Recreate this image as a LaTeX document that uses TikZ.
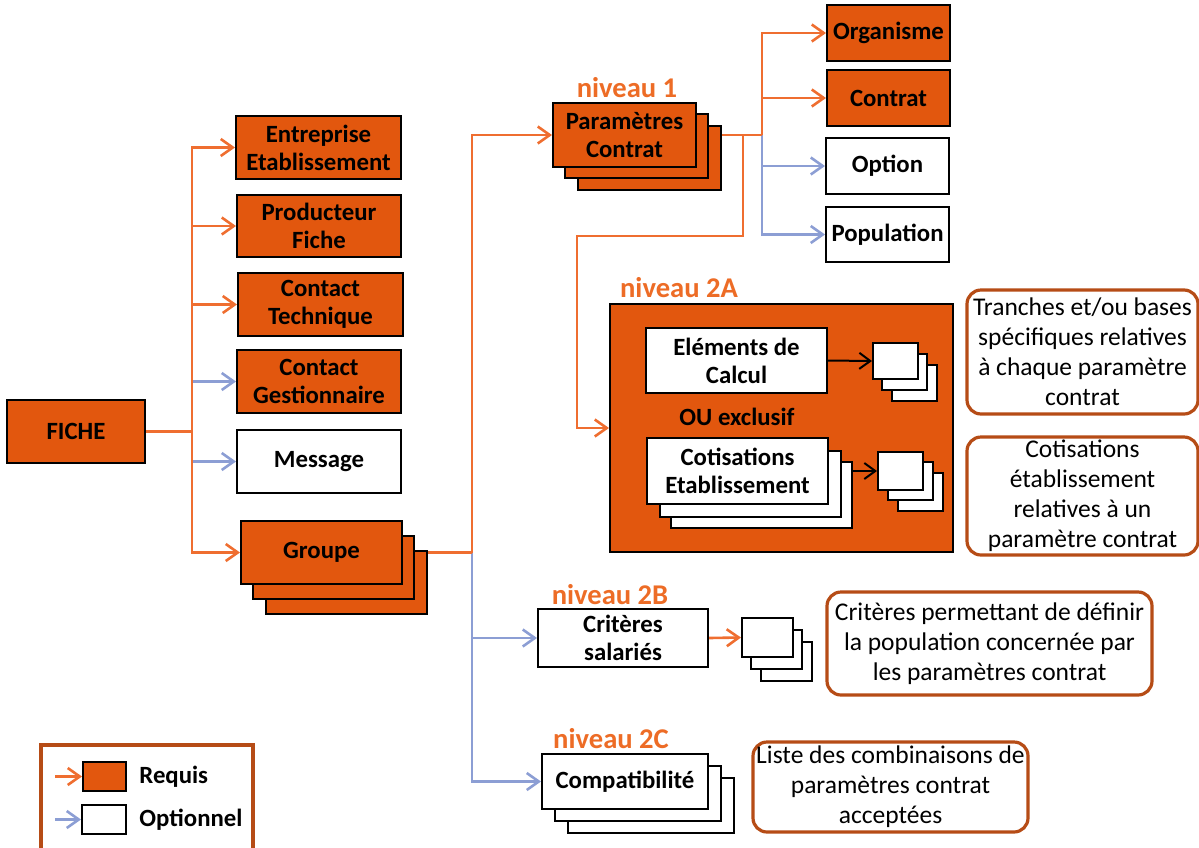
\documentclass[tikz,border=0pt]{standalone}
\usepackage{fontspec}
\setmainfont{Carlito}
\usetikzlibrary{arrows.meta,calc}
\pgfdeclarelayer{bga}
\pgfdeclarelayer{bgb}
\pgfsetlayers{bga,bgb,main}
\definecolor{fillO}{RGB}{226,87,14}
\definecolor{arrO}{RGB}{239,110,48}
\definecolor{arrB}{RGB}{140,158,212}
\definecolor{annB}{RGB}{182,76,22}
\definecolor{nivO}{RGB}{237,108,38}
\begin{document}
\begin{tikzpicture}[x=0.5pt,y=-0.5pt,
  sz/.style 2 args={minimum width=#1*0.5pt, minimum height=#2*0.5pt},
  lbl/.style={inner sep=0pt, align=center, text=black,
    font=\fontsize{12.4}{14}\selectfont\bfseries},
  box/.style={lbl, draw=black, line width=1pt},
  req/.style={box, fill=fillO},
  opt/.style={box, fill=white},
  annot/.style={draw=annB, line width=1.6pt, rounded corners=7pt, fill=white, inner sep=0pt,
    align=center, font=\fontsize{12.75}{15}\selectfont},
  niv/.style={text=nivO, inner sep=0pt, font=\fontsize{14.3}{16}\selectfont\bfseries},
  oline/.style={draw=arrO, line width=1.3pt},
  bline/.style={draw=arrB, line width=1.3pt},
  oarr/.style={oline, -{Straight Barb[length=6pt,width=8.5pt]}},
  barr/.style={bline, -{Straight Barb[length=6pt,width=8.5pt]}},
  karr/.style={draw=black, line width=1pt, -{Straight Barb[length=5.5pt,width=8pt]}}
]
\useasboundingbox (0,0) rectangle (1199,847);

% ---------- left column ----------
\node[req, sz={138}{63}] (fiche) at (76,431.5) {FICHE};
\node[req, sz={165}{63}] (ent) at (318.5,147.5) {Entreprise\\Etablissement};
\node[req, sz={164}{62}] (prod) at (319,226) {Producteur\\Fiche};
\node[req, sz={165}{63}] (ctech) at (320.5,304.5) {Contact\\Technique};
\node[req, sz={164}{63}] (cgest) at (319,381.5) {Contact\\Gestionnaire};
\node[opt, sz={164}{63}] (msg) at (319,461.5) {Message};
\node[req, sz={161}{63}] (groupe3) at (346.5,582.5) {};
\node[req, sz={161}{63}] (groupe2) at (333.5,567.5) {};
\node[req, sz={161}{63}] (groupe) at (321.5,552.5) {Groupe};

% ---------- niveau 1 ----------
\node[niv] (niv1) at (627,88) {niveau 1};
\node[req, sz={143}{64}] (param3) at (649.5,158) {};
\node[req, sz={143}{64}] (param2) at (636.5,146) {};
\node[req, sz={143}{64}] (param) at (624.5,135) {Paramètres\\Contrat};
\node[req, sz={123}{56}] (org) at (888.5,33) {Organisme};
\node[req, sz={123}{56}] (contrat) at (888.5,98) {Contrat};
\node[opt, sz={123}{56}] (option) at (887.5,166) {Option};
\node[opt, sz={123}{55}] (popu) at (887.5,234.5) {Population};

% ---------- niveau 2A ----------
\node[niv] (niv2a) at (679,288) {niveau 2A};
\begin{pgfonlayer}{bga}
\node[req, sz={343}{248}] (n2a) at (781.5,428) {};
\end{pgfonlayer}
\node[opt, sz={181}{65}] (elem) at (736.5,360.5) {Eléments de\\Calcul};
\node[opt, sz={45}{36}] (sa3) at (914.5,383) {};
\node[opt, sz={45}{36}] (sa2) at (904.5,372) {};
\node[opt, sz={45}{36}] (sa) at (895.5,361) {};
\node[lbl] (ou) at (737,417) {OU exclusif};
\node[opt, sz={181}{66}] (cotis3) at (761.5,495) {};
\node[opt, sz={181}{66}] (cotis2) at (750.5,484) {};
\node[opt, sz={181}{66}] (cotis) at (737.5,471) {Cotisations\\Etablissement};
\node[opt, sz={45}{38}] (sb3) at (920.5,492) {};
\node[opt, sz={45}{38}] (sb2) at (910.5,481) {};
\node[opt, sz={45}{38}] (sb) at (900.5,471) {};

% ---------- niveau 2B / 2C ----------
\node[niv] (niv2b) at (610,595) {niveau 2B};
\node[opt, sz={170}{58}] (crit) at (623,638) {Critères\\salariés};
\node[opt, sz={51}{39}] (sc3) at (786.5,661.5) {};
\node[opt, sz={51}{39}] (sc2) at (776.5,649.5) {};
\node[opt, sz={51}{39}] (sc) at (767.5,637.5) {};
\node[niv] (niv2c) at (611,739) {niveau 2C};
\node[opt, sz={166}{55}] (compat3) at (651,805.5) {};
\node[opt, sz={166}{55}] (compat2) at (638,793.5) {};
\node[opt, sz={166}{55}] (compat) at (625,781.5) {Compatibilité};

% ---------- annotations ----------
\node[annot, sz={231}{124}] (antr) at (1082.5,352) {Tranches et/ou bases\\spécifiques relatives\\à chaque paramètre\\contrat};
\node[annot, sz={231}{118}] (ancot) at (1082.5,496) {Cotisations\\établissement\\relatives à un\\paramètre contrat};
\node[annot, sz={325}{103}] (ancrit) at (989.5,643.5) {Critères permettant de définir\\la population concernée par\\les paramètres contrat};
\node[annot, sz={275}{90}] (anliste) at (890.5,787) {Liste des combinaisons de\\paramètres contrat\\acceptées};

% ---------- legend ----------
\draw[draw=annB, line width=1.6pt] (41,745) rectangle (253,870);
\node[req, sz={43}{29}] (lreq) at (104.5,776.5) {};
\node[opt, sz={44}{29}] (lopt) at (104,819.5) {};
\node[lbl, anchor=west] (treq) at (139,777) {Requis};
\node[lbl, anchor=west] (topt) at (139,820) {Optionnel};
\coordinate (lra) at (55,776.5);
\coordinate (loa) at (55,819.5);

% ---------- connectors ----------
\coordinate (j0) at (192,431.5);
\coordinate (jg) at (472,552.5);
\coordinate (jp) at (762,135);
\coordinate (jq) at (743,135);
\coordinate (k1) at (743,236);
\coordinate (k2) at (577,236);
\begin{pgfonlayer}{bgb}
\draw[barr] (j0) |- (cgest.west);
\draw[barr] (j0) |- (msg.west);
\draw[oline] (fiche.east) -- (j0);
\draw[oarr] (j0) |- (ent.west);
\draw[oarr] (j0) |- (prod.west);
\draw[oarr] (j0) |- (ctech.west);
\draw[oarr] (j0) |- (groupe.west);
\draw[barr] (jg) |- (crit.west);
\draw[barr] (jg) |- (compat.west);
\draw[oline] (groupe.east) -- (jg);
\draw[oarr] (jg) |- (param.west);
\draw[barr] (jp) |- (option.west);
\draw[barr] (jp) |- (popu.west);
\draw[oline] (param.east) -- (jp);
\draw[oarr] (jp) |- (org.west);
\draw[oarr] (jp) |- (contrat.west);
\draw[oarr] (jq) -- (k1) -- (k2) |- (n2a.west);
\draw[karr] (elem.east) -- (sa.west);
\draw[karr] (cotis.east) -- (sb.west);
\draw[oarr] (crit.east) -- (sc.west);
\draw[oarr] (lra) -- (lreq.west);
\draw[barr] (loa) -- (lopt.west);
\end{pgfonlayer}
\end{tikzpicture}
\end{document}
